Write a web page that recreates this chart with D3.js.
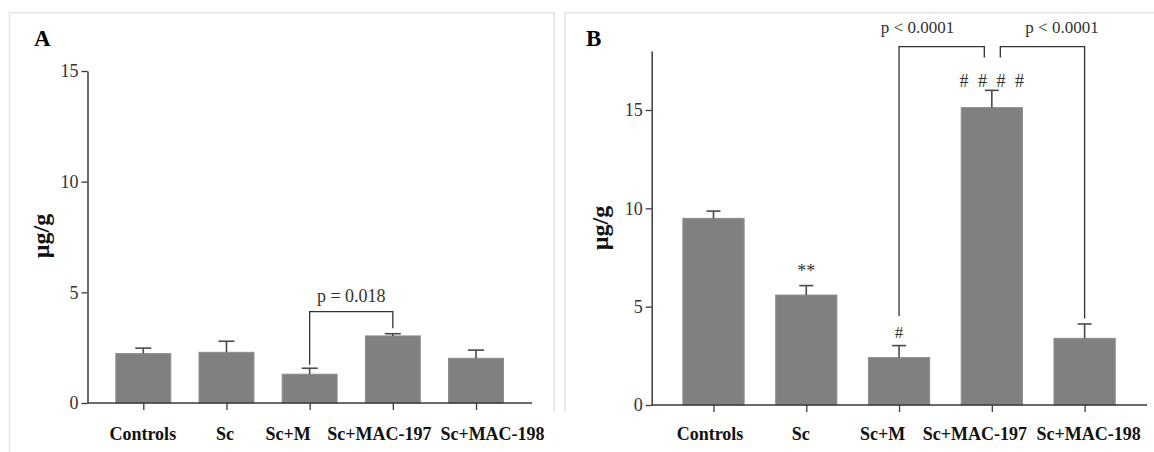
<!DOCTYPE html>
<html>
<head>
<meta charset="utf-8">
<script src="https://cdn.jsdelivr.net/npm/d3@7"></script>
<style>
  html, body { margin: 0; padding: 0; background: #fff; }
  svg { display: block; font-family: "Liberation Serif", "Times New Roman", serif; }
</style>
</head>
<body>
<svg id="fig" width="1154" height="452"></svg>
<script>
// Treatment groups shared by both panels
const groups = ["Controls", "Sc", "Sc+M", "Sc+MAC-197", "Sc+MAC-198"];

// Panel A: mean and SEM (µg/g)
const meanA = [2.23, 2.29, 1.30, 3.03, 2.02];
const semA  = [0.25, 0.50, 0.27, 0.10, 0.37];
const ticksA = [0, 5, 10, 15];

// Panel B: mean and SEM (µg/g)
const meanB = [9.49, 5.59, 2.41, 15.12, 3.39];
const semB  = [0.37, 0.48, 0.61, 0.88, 0.73];
const ticksB = [0, 5, 10, 15];

// Significance marks above bars in panel B
const marksB = ["", "**", "#", "# # # #", ""];

const svg = d3.select("#fig");
const axisColor = "#3a3a3a";
const barColor = "#808080";

// light frame lines around the two panels
const frame = svg.append("g").attr("stroke", "#e3e3e3").attr("stroke-width", 1.5).attr("fill", "none");
frame.append("path").attr("d", "M9.5,452 V12.7 H554 V412");
frame.append("path").attr("d", "M565,412 V12.7 H1154");

function panel(cfg) {
  const g = svg.append("g");
  const y = d3.scaleLinear().domain(cfg.yDomain).range([cfg.y0, cfg.yTop]);
  const x = d3.scalePoint().domain(groups).range(cfg.xRange);
  const barW = x.step() * 0.66;

  // bars
  g.selectAll("rect.bar").data(cfg.mean).join("rect")
    .attr("class", "bar")
    .attr("x", (d, i) => x(groups[i]) - barW / 2)
    .attr("width", barW)
    .attr("y", d => y(d))
    .attr("height", d => y(0) - y(d))
    .attr("fill", barColor)
    .attr("stroke", "#8c8c8c").attr("stroke-width", 1);

  // upward SEM whiskers with caps
  const eb = g.append("g").attr("stroke", "#4a4a4a").attr("stroke-width", 1.6);
  cfg.mean.forEach((m, i) => {
    const cx = x(groups[i]);
    eb.append("line").attr("x1", cx).attr("x2", cx).attr("y1", y(m)).attr("y2", y(m + cfg.sem[i]));
    eb.append("line").attr("x1", cx - cfg.cap / 2).attr("x2", cx + cfg.cap / 2)
      .attr("y1", y(m + cfg.sem[i])).attr("y2", y(m + cfg.sem[i]));
  });

  // y axis
  const ya = g.append("g").attr("transform", `translate(${cfg.xAxis},0)`)
    .call(d3.axisLeft(y).tickValues(cfg.ticks).tickSize(6).tickPadding(3).tickSizeOuter(0));
  ya.attr("font-family", null);
  ya.select(".domain").attr("stroke", axisColor).attr("stroke-width", 1.5);
  ya.selectAll(".tick line").attr("stroke", axisColor).attr("stroke-width", 1.3);
  ya.selectAll("text").attr("font-size", 18).attr("fill", "#333");

  // x axis baseline and ticks
  g.append("line").attr("x1", cfg.xAxis).attr("x2", cfg.xEnd).attr("y1", y(0)).attr("y2", y(0))
    .attr("stroke", axisColor).attr("stroke-width", 1.5);
  const xa = g.append("g").attr("transform", `translate(0,${y(0)})`)
    .call(d3.axisBottom(x).tickSize(7).tickSizeOuter(0));
  xa.attr("font-family", null);
  xa.select(".domain").remove();
  xa.selectAll(".tick line").attr("stroke", axisColor).attr("stroke-width", 1.3);
  xa.selectAll("text")
    .attr("y", 440 - y(0)).attr("dy", 0)
    .attr("dx", (d, i) => cfg.labelShift[i])
    .attr("font-size", 18).attr("font-weight", "bold").attr("fill", "#111");

  // y axis title
  g.append("text")
    .attr("transform", `translate(${cfg.titleX},${cfg.titleY}) rotate(-90)`)
    .attr("text-anchor", "middle")
    .attr("font-size", 24).attr("font-weight", "bold").attr("fill", "#111")
    .text("µg/g");

  // panel letter
  g.append("text").attr("x", cfg.letterX).attr("y", 46)
    .attr("font-size", 23).attr("font-weight", "bold").attr("fill", "#000")
    .text(cfg.letter);

  return { g, x, y };
}

// ---- Panel A ----
const A = panel({
  letter: "A", letterX: 34,
  mean: meanA, sem: semA, ticks: ticksA,
  yDomain: [0, 15], y0: 403, yTop: 71,
  xRange: [143.3, 476], xAxis: 87.5, xEnd: 532,
  cap: 16, titleX: 49, titleY: 236,
  labelShift: [-1, -2, -22, -14, 16]
});

// comparison bracket Sc+M vs Sc+MAC-197
{
  const { g, x, y } = A;
  const xl = x("Sc+M"), xr = x("Sc+MAC-197");
  const top = 311.7;
  g.append("path")
    .attr("d", `M${xl},${y(meanA[2] + semA[2]) - 3.5} V${top} H${xr} V${y(meanA[3] + semA[3]) - 5.5}`)
    .attr("fill", "none").attr("stroke", "#333").attr("stroke-width", 1.3);
  g.append("text").attr("x", (xl + xr) / 2).attr("y", 301.5)
    .attr("text-anchor", "middle").attr("font-size", 18).attr("fill", "#333")
    .text("p = 0.018");
}

// ---- Panel B ----
const B = panel({
  letter: "B", letterX: 586,
  mean: meanB, sem: semB, ticks: ticksB,
  yDomain: [0, 18], y0: 405, yTop: 51,
  xRange: [713.5, 1084.6], xAxis: 651.7, xEnd: 1147,
  cap: 14, titleX: 608, titleY: 228,
  labelShift: [-4, -6, -17, -17.5, 3.5]
});

{
  const { g, x, y } = B;
  // significance symbols above whiskers
  const markY = [0, 277, 338, 87, 0];
  const markSize = [0, 18, 17, 18, 0];
  const markSpacing = [0, 0, 0, 2.5, 0];
  marksB.forEach((m, i) => {
    if (!m) return;
    g.append("text").attr("x", x(groups[i]) + markSpacing[i] / 2).attr("y", markY[i])
      .attr("text-anchor", "middle").attr("font-size", markSize[i]).attr("fill", "#333")
      .attr("letter-spacing", markSpacing[i])
      .text(m);
  });

  // two brackets meeting over Sc+MAC-197
  const top = 46.7, inner = 57.5;
  const xm = x("Sc+MAC-197");
  const xl = x("Sc+M"), xr = x("Sc+MAC-198");
  g.append("path")
    .attr("d", `M${xl},${y(meanB[2] + semB[2]) - 29.5} V${top} H${xm - 7.5} V${inner}`)
    .attr("fill", "none").attr("stroke", "#333").attr("stroke-width", 1.3);
  g.append("path")
    .attr("d", `M${xm + 8.5},${inner} V${top} H${xr} V${y(meanB[4] + semB[4]) - 5.5}`)
    .attr("fill", "none").attr("stroke", "#333").attr("stroke-width", 1.3);
  g.append("text").attr("x", 917.5).attr("y", 33.3)
    .attr("text-anchor", "middle").attr("font-size", 17).attr("fill", "#333")
    .text("p < 0.0001");
  g.append("text").attr("x", 1062).attr("y", 33.3)
    .attr("text-anchor", "middle").attr("font-size", 17).attr("fill", "#333")
    .text("p < 0.0001");
}
</script>
</body>
</html>
